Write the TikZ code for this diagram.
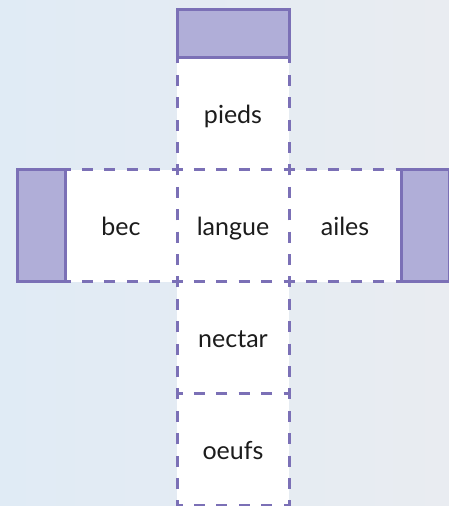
\documentclass[tikz,border=0pt]{standalone}
\usepackage{fontspec}
\setmainfont{Lato}
\usetikzlibrary{positioning}
\definecolor{netline}{RGB}{123,112,182}
\definecolor{flapfill}{RGB}{176,174,216}
\definecolor{bgleft}{RGB}{224,235,245}
\definecolor{bgright}{RGB}{233,236,241}
\definecolor{labeltext}{RGB}{28,28,28}
\newcommand{\cellsize}{112pt}
\newcommand{\flapsize}{48pt}

\begin{document}
\begin{tikzpicture}[
	cell/.style={fill=white, minimum width=\cellsize, minimum height=\cellsize,
		inner sep=0pt, outer sep=0pt, text=labeltext, text height=20pt, text depth=0pt,
		font=\fontsize{25}{29}\selectfont},
	fold/.style={draw=netline, line width=3pt,
		dash pattern=on 11pt off 11.4pt, dash phase=5.5pt},
	flap/.style={draw=netline, fill=flapfill, line width=3pt,
		inner sep=0pt, outer sep=0pt},
	node distance=0pt]
	\fill[left color=bgleft, right color=bgright] (0,0) rectangle (449pt,506pt);
	\useasboundingbox (0,0) rectangle (449pt,506pt);

	\node[cell] (langue) at (233pt,280pt) {langue};
	\node[cell, above=of langue] (pieds) {pieds};
	\node[cell, left=of langue] (bec) {bec};
	\node[cell, right=of langue] (ailes) {ailes};
	\node[cell, below=of langue] (nectar) {nectar};
	\node[cell, below=of nectar] (oeufs) {oeufs};

	\foreach \face in {langue,pieds,bec,ailes,nectar,oeufs}
		\draw[fold] (\face.south west) rectangle (\face.north east);

	\node[flap, minimum width=\cellsize, minimum height=\flapsize, above=of pieds] (flaptop) {};
	\node[flap, minimum width=\flapsize, minimum height=\cellsize, left=of bec] (flapleft) {};
	\node[flap, minimum width=\flapsize, minimum height=\cellsize, right=of ailes] (flapright) {};
\end{tikzpicture}
\end{document}
